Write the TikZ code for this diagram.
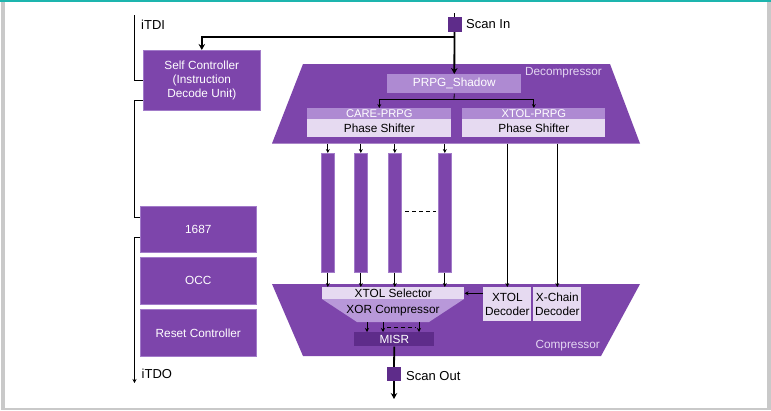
\documentclass[tikz,border=0pt]{standalone}
\usepackage{fontspec}
\setmainfont{Liberation Sans}
\usetikzlibrary{arrows.meta}

\definecolor{ppMain}{HTML}{7D45AB}
\definecolor{ppEdge}{HTML}{A27BC9}
\definecolor{ppLight}{HTML}{AE8AD2}
\definecolor{ppPale}{HTML}{E6DAF1}
\definecolor{ppXor}{HTML}{B898D9}
\definecolor{ppDark}{HTML}{5E2C8A}
\definecolor{ppLabel}{HTML}{E4D6F2}
\definecolor{frameTeal}{HTML}{1DB5AE}
\definecolor{frameGray}{HTML}{C9C9C9}

\begin{document}
\begin{tikzpicture}[x=1pt,y=-1pt,
  lbl/.style={font=\fontsize{11.8}{14}\selectfont},
  box/.style={lbl, fill=ppMain, draw=ppEdge, line width=0.6pt, text=white,
    align=center, inner sep=0pt, anchor=north west},
  lightbox/.style={box, fill=ppLight, draw=none},
  hdrbox/.style={lightbox, font=\fontsize{11.2}{13}\selectfont},
  palebox/.style={box, fill=ppPale, draw=none, text=black},
  darkbox/.style={box, fill=ppDark, draw=none},
  chain/.style={fill=ppMain, draw=ppEdge, line width=0.6pt, inner sep=0pt,
    anchor=north west, minimum width=13pt, minimum height=119pt},
  port/.style={fill=ppDark, inner sep=0pt, minimum width=14pt, minimum height=15pt},
  thin/.style={line width=0.8pt},
  arr/.style={thin, -{Stealth[length=4pt,width=4pt]}},
  bigarr/.style={line width=1.8pt, -{Stealth[length=6pt,width=6.5pt]}},
  txt/.style={font=\fontsize{13}{15}\selectfont, inner sep=0pt, anchor=west}
]
\useasboundingbox (0,0) rectangle (771,410);
\fill[white] (0,0) rectangle (771,410);

% page frame
\fill[frameGray] (1.3,1.5) rectangle (4.7,410);
\fill[frameGray] (767,1.5) rectangle (771,410);
\fill[frameGray] (1.3,408.3) rectangle (771,410);
\fill[frameTeal] (0,0) rectangle (771,1.6);

% ---------- left column: test access chain ----------
\node[box, minimum width=117pt, minimum height=60pt] (self) at (143,50)
  {Self Controller\\(Instruction\\Decode Unit)};
\node[box, minimum width=116pt, minimum height=46pt] (ieee) at (140,206) {1687};
\node[box, minimum width=116pt, minimum height=47pt] (occ) at (140,257) {OCC};
\node[box, minimum width=116pt, minimum height=47pt] (rst) at (140,309) {Reset Controller};

\coordinate (tdi) at (134.5,15);
\coordinate (tdo) at (134.5,383);
\node[txt] (tdilbl) at (141,25) {iTDI};
\node[txt] (tdolbl) at (141.5,373.5) {iTDO};

\draw[thin] (tdi) |- (self.west);
\draw[thin] ([yshift=-20pt]self.west) -- ++(-8.5pt,0) |- ([yshift=12pt]ieee.west);
\draw[arr] ([yshift=-8pt]ieee.west) -| (tdo);

% ---------- decompressor ----------
\fill[ppMain] (303,64) -- (610,64) -- (640,143.5) -- (272,143.5) -- cycle;
\coordinate (dcbot) at (0,143.5);
\node[lbl, text=ppLabel, inner sep=0pt, anchor=east] (dclbl) at (602,72.5) {Decompressor};

\node[lightbox, minimum width=134pt, minimum height=19pt] (shadow) at (387,74) {PRPG\_Shadow};

\node[hdrbox, minimum width=144pt, minimum height=11pt] (care) at (307,108) {CARE-PRPG};
\node[palebox, minimum width=144pt, minimum height=18pt] (careps) at (307,119) {Phase Shifter};
\node[hdrbox, minimum width=143pt, minimum height=11pt] (xtolp) at (462,108) {XTOL-PRPG};
\node[palebox, minimum width=143pt, minimum height=18pt] (xtolps) at (462,119) {Phase Shifter};

% scan input
\coordinate (sintop) at (454.5,13);
\node[port] (sin) at (454.5,24.5) {};
\node[txt] (sinlbl) at (466,24.5) {Scan In};
\coordinate (split) at (454.5,37);
\draw[line width=1.8pt] (sintop) -- (sin.north);
\draw[bigarr] (sin.south) -- (shadow.north);
\draw[bigarr] (split) -| (self.north);

% PRPG fan-out
\coordinate (fan) at (454,99);
\draw[thin] (shadow.south) -- (fan);
\draw[arr] (fan) -| (care.north);
\draw[arr] (fan) -| (xtolp.north);

% ---------- scan chains ----------
\node[chain] (c1) at (321,153) {};
\node[chain] (c2) at (354,153) {};
\node[chain] (c3) at (388,153) {};
\node[chain] (c4) at (438,153) {};
\draw[thin, dash pattern=on 4pt off 3pt] (405,211) -- (436,211);

\foreach \c in {c1,c2,c3,c4}
  \draw[arr] (\c.north |- dcbot) -- (\c.north);

% ---------- compressor ----------
\fill[ppMain] (272,284) -- (640,284) -- (601,356) -- (303,356) -- cycle;
\node[lbl, text=ppLabel, inner sep=0pt, anchor=east] (cplbl) at (600,346) {Compressor};

\node[palebox, minimum width=142pt, minimum height=12pt] (xsel) at (322,287) {XTOL Selector};
\fill[ppXor] (322,299) -- (464,299) -- (429,322) -- (357,322) -- cycle;
\node[lbl, inner sep=0pt] (xor) at (393,311) {XOR Compressor};
\node[darkbox, minimum width=80pt, minimum height=14pt] (misr) at (354,332) {MISR};

\node[palebox, minimum width=48pt, minimum height=34pt] (xdec) at (483,287) {XTOL\\Decoder};
\node[palebox, minimum width=48pt, minimum height=34pt] (cdec) at (533,287) {X-Chain\\Decoder};

\foreach \c in {c1,c2,c3,c4}
  \draw[arr] (\c.south) -- (\c.south |- xsel.north);

\draw[arr] (xdec.north |- dcbot) -- (xdec.north);
\draw[arr] (cdec.north |- dcbot) -- (cdec.north);
\draw[arr] (xdec.west |- xsel.east) -- (xsel.east);

\coordinate (m1) at (367,322);
\coordinate (m2) at (383,322);
\coordinate (m3) at (419,322);
\foreach \m in {m1,m2,m3}
  \draw[arr] (\m) -- (\m |- misr.north);
\draw[thin, dash pattern=on 4pt off 3pt] (387,327) -- (416,327);

% scan output
\node[port, minimum height=14pt] (sout) at (394,374) {};
\node[txt] (soutlbl) at (406,376) {Scan Out};
\coordinate (soutend) at (394,399);
\draw[line width=1.8pt] (misr.south) -- (sout.north);
\draw[bigarr] (sout.south) -- (soutend);
\end{tikzpicture}
\end{document}
